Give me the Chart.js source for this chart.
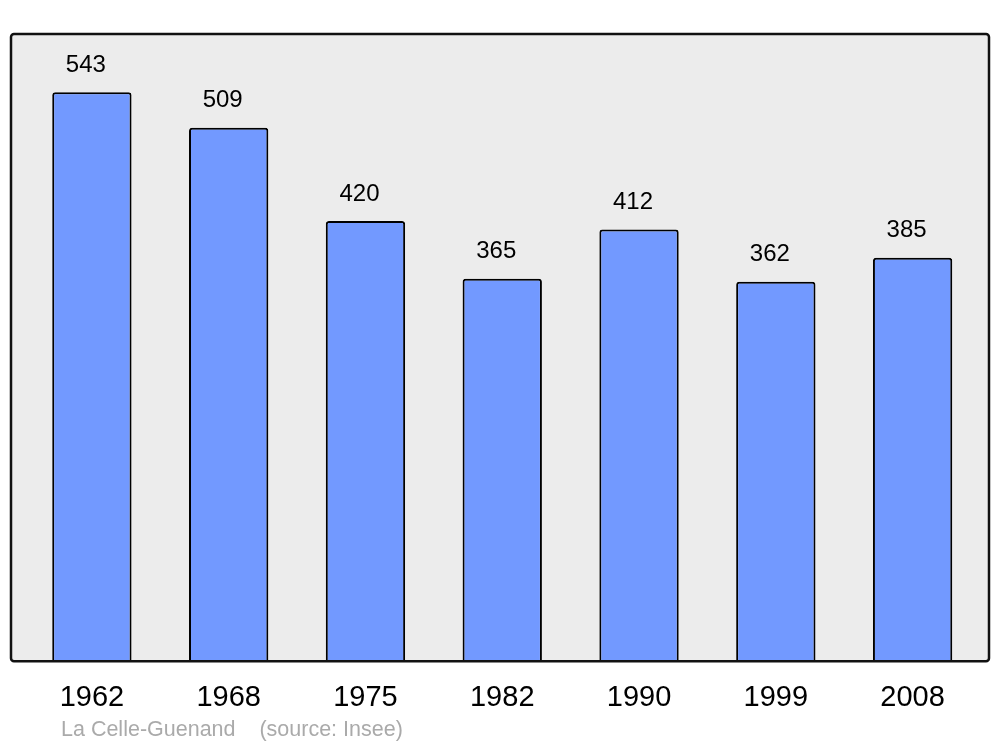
<!DOCTYPE html>
<html>
<head>
<meta charset="utf-8">
<script src="https://cdn.jsdelivr.net/npm/chart.js@4"></script>
<style>
  html, body { margin: 0; padding: 0; background: #fff; }
  #wrap { width: 1000px; height: 747px; }
</style>
</head>
<body>
<div id="wrap"><canvas id="chart" width="1000" height="747"></canvas></div>
<script>
/* Population data, La Celle-Guenand */
const years = ['1962', '1968', '1975', '1982', '1990', '1999', '2008'];
const population = [543, 509, 420, 365, 412, 362, 385];
const sourceText = 'La Celle-Guenand    (source: Insee)';

const FONT = '"Liberation Sans", Arial, sans-serif';

// Grey framed panel behind the bars
const panelPlugin = {
    id: 'panel',
    beforeDraw(chart) {
        const { ctx, chartArea } = chart;
        const x0 = chartArea.left - 12.5, x1 = chartArea.right + 8;
        const y0 = chartArea.top, y1 = chartArea.bottom;
        ctx.save();
        ctx.beginPath();
        ctx.roundRect(x0, y0, x1 - x0, y1 - y0, 3);
        ctx.fillStyle = '#ececec';
        ctx.fill();
        ctx.restore();
    },
    afterDatasetsDraw(chart) {
        const { ctx, chartArea } = chart;
        const x0 = chartArea.left - 12.5, x1 = chartArea.right + 8;
        const y0 = chartArea.top, y1 = chartArea.bottom;
        ctx.save();
        ctx.beginPath();
        ctx.roundRect(x0, y0, x1 - x0, y1 - y0, 3);
        ctx.lineWidth = 2.5;
        ctx.strokeStyle = '#111';
        ctx.stroke();

        // value labels above each bar
        const meta = chart.getDatasetMeta(0);
        ctx.font = '24px ' + FONT;
        ctx.fillStyle = '#000';
        ctx.textAlign = 'center';
        ctx.textBaseline = 'middle';
        meta.data.forEach((bar, i) => {
            ctx.fillText(String(population[i]), bar.x - 6, bar.y - 27);
        });

        // source line
        ctx.font = '21.5px ' + FONT;
        ctx.fillStyle = '#aaaaaa';
        ctx.textAlign = 'left';
        ctx.fillText(sourceText, chartArea.left + 37.5, 730);
        ctx.restore();
    }
};

new Chart(document.getElementById('chart'), {
    type: 'bar',
    data: {
        labels: years,
        datasets: [{
            data: population,
            backgroundColor: '#7299ff',
            borderColor: '#000',
            borderWidth: 2,
            borderRadius: { topLeft: 3, topRight: 3 },
            borderSkipped: 'bottom',
            barPercentage: 0.58,
            categoryPercentage: 1
        }]
    },
    options: {
        responsive: false,
        animation: false,
        layout: { padding: { left: 23.5, right: 19, top: 34, bottom: 13 } },
        plugins: {
            legend: { display: false },
            tooltip: { enabled: false }
        },
        scales: {
            x: {
                grid: { display: false, drawTicks: false },
                border: { display: false },
                ticks: {
                    color: '#000',
                    font: { family: FONT, size: 29 },
                    padding: 19
                }
            },
            y: {
                display: false,
                min: 0,
                max: 598.5
            }
        }
    },
    plugins: [panelPlugin]
});
</script>
</body>
</html>
